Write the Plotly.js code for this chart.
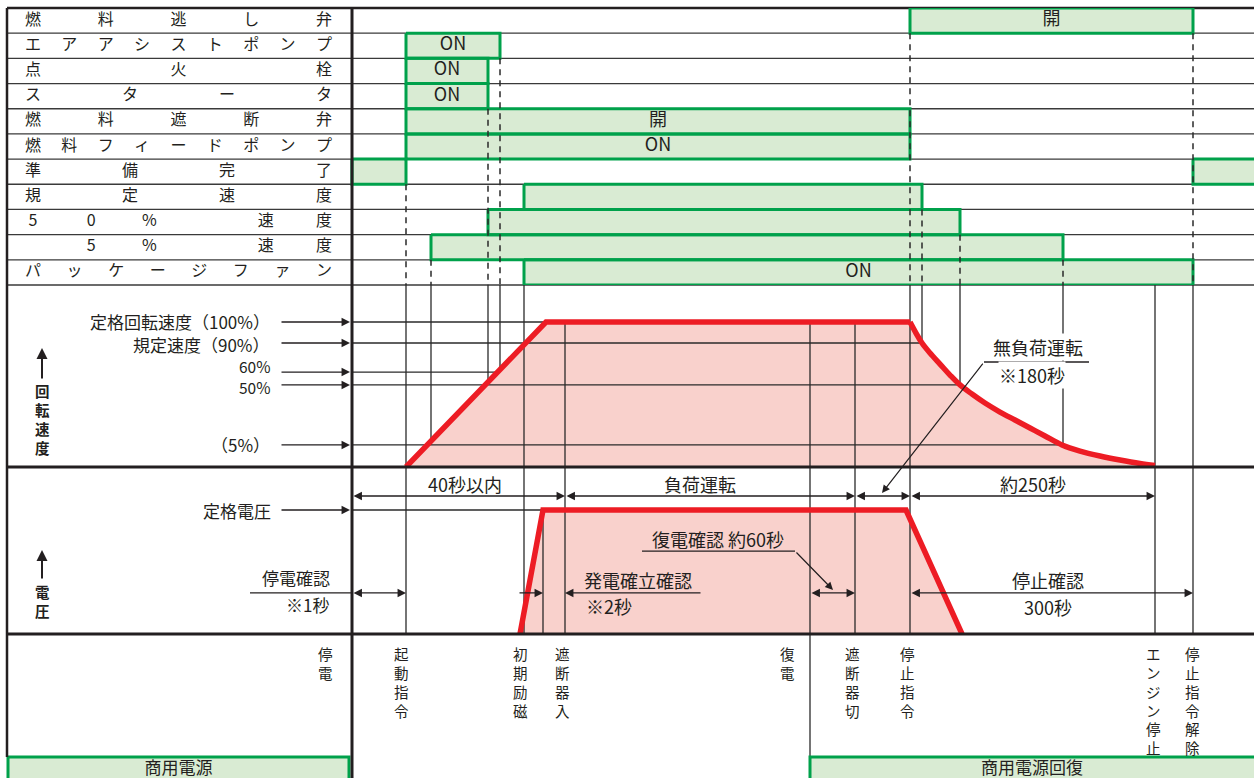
<!DOCTYPE html>
<html><head><meta charset="utf-8">
<script src="https://cdn.plot.ly/plotly-3.0.1.min.js"></script>
<style>html,body{margin:0;padding:0;background:#fff}#chart{width:1254px;height:778px}</style>
</head><body><div id="chart"></div>
<script>
// ===================== DATA =====================
// Schematic time axis of the sequence diagram (arbitrary units, left = power failure at 0)
const eventNames = ['停電','起動指令','初期励磁','遮断器入','復電','遮断器切','停止指令','エンジン停止','停止指令解除'];
const eventTimes = [0, 54, 168, 213, 458, 503, 558, 803, 841];

// Timing rows (state bars)
const rowLabels = ['燃料逃し弁','エアアシストポンプ','点火栓','スタータ','燃料遮断弁','燃料フィードポンプ','準備完了','規定速度','50%　速度','　5%　速度','パッケージファン'];
const barRow   = [0, 1, 2, 3, 4, 5, 6, 6, 7, 8, 9, 10];
const barStart = [558, 54, 54, 54, 54, 54, 0, 841, 172, 136, 79, 172];
const barEnd   = [841, 148, 136, 136, 558, 558, 54, 930, 570, 608, 711, 841];
const barText  = ['開','ON','ON','ON','開','ON','','','','','','ON'];

// Dashed connectors from the timing rows down to the speed chart
const dashT       = [54, 79, 136, 148, 558, 570, 608, 711, 841];
const dashFromRow = [7, 10, 4, 2, 1, 8, 9, 10, 1];

// Engine speed (schematic drawn level, rated = 100)
const speedLevelLabels = ['定格回転速度（100%）','規定速度（90%）','60%','50%','（5%）'];
const speedLevels      = [100, 85.5, 65.5, 56.6, 15.2];
const speedLevelEnd    = [558, 570, 148, 608, 711];
// run-up (linear) and coast-down (curved) parts of the speed trace
const speedRiseT  = [54, 194, 558];
const speedRiseV  = [0, 100, 100];
const speedDecayT = [558, 564, 570, 578, 588, 598, 608, 620, 633, 648, 663, 678, 693, 710, 728, 748, 768, 788, 803];
const speedDecayV = [100, 92.4, 85.5, 78.6, 71.0, 63.4, 56.6, 50.3, 44.1, 37.9, 32.4, 26.9, 21.4, 15.2, 11.0, 7.6, 4.8, 2.4, 1.0];

// Generator voltage (rated = 100)
const voltT = [168, 191, 554, 610];
const voltV = [0, 100, 100, 0];

// Vertical event lines in the speed chart
const speedVLineT    = [54, 79, 136, 148, 172, 213, 458, 503, 558, 570, 608, 711, 803, 841];
const speedVLineLow  = [0, 15.2, 56.6, 65.5, 0, 0, 0, 0, 0, 85.5, 56.6, 15.2, 0, 0];
const speedVLineToTop= [1, 1, 1, 1, 1, 0, 0, 0, 1, 1, 1, 1, 1, 1];
// Vertical event lines in the voltage chart
const voltVLineT     = [54, 172, 191, 213, 458, 503, 558, 803, 841];
const voltVLineToTop = [1, 1, 0, 1, 1, 1, 1, 1, 1];

// Commercial power bars (bottom)
const mainsLabels = ['商用電源','商用電源回復'];
const mainsStart  = [-344, 458];
const mainsEnd    = [-3, 930];

// ===================== STYLE / LAYOUT =====================
const W = 1254, H = 778;
const T_MIN = -352, T_MAX = 902;
const FONT = '"Noto Sans CJK JP","Noto Sans",sans-serif';
const INK = '#231f20';
const GRID = '#2a2a2a';
const GREEN = 'rgb(0,161,75)';
const GREEN_FILL = 'rgb(217,235,211)';
const RED = 'rgb(237,28,36)';
const PINK = 'rgb(249,209,204)';

const ROWS_TOP = 8, ROWS_BOT = 285, SPEED_BOT = 467, VOLT_BOT = 634;
const SPEED_TOP = (SPEED_BOT - ROWS_BOT) / 1.45;
const VOLT_TOP = (VOLT_BOT - SPEED_BOT) / 1.24;
const BOT_RANGE = H - VOLT_BOT;
const py = p => 1 - p / H;
const pxx = p => p / W;

const data = [];
const noHover = {hoverinfo: 'skip', showlegend: false};

// fills
data.push(Object.assign({type:'scatter', x: speedRiseT, y: speedRiseV, yaxis:'y2', mode:'lines', line:{width:0, color:PINK}, fill:'tozeroy', fillcolor:PINK}, noHover));
data.push(Object.assign({type:'scatter', x: speedDecayT, y: speedDecayV, yaxis:'y2', mode:'lines', line:{width:0, color:PINK, shape:'spline', smoothing:1}, fill:'tozeroy', fillcolor:PINK}, noHover));
data.push(Object.assign({type:'scatter', x: voltT, y: voltV, yaxis:'y3', mode:'lines', line:{width:0, color:PINK}, fill:'tozeroy', fillcolor:PINK}, noHover));

// grid lines
function segTrace(segs, yaxis, extra) {
  const xs = [], ys = [];
  segs.forEach(s => { xs.push(s[0], s[1], null); ys.push(s[2], s[3], null); });
  return Object.assign({type:'scatter', x: xs, y: ys, yaxis: yaxis, mode:'lines', line:{color:GRID, width:1.3}}, noHover, extra || {});
}
const sSegs = [];
speedLevels.forEach((v, i) => sSegs.push([0, speedLevelEnd[i], v, v]));
speedVLineT.forEach((t, i) => sSegs.push([t, t, speedVLineLow[i], speedVLineToTop[i] ? SPEED_TOP : speedLevels[0]]));
data.push(segTrace(sSegs, 'y2'));
const vSegs = [[0, voltT[2], voltV[1], voltV[1]]];
voltVLineT.forEach((t, i) => vSegs.push([t, t, 0, voltVLineToTop[i] ? VOLT_TOP : voltV[1]]));
data.push(segTrace(vSegs, 'y3'));
data.push(segTrace([[eventTimes[4], eventTimes[4], 0, 123]], 'y4'));

// red curves
data.push(Object.assign({type:'scatter', x: speedRiseT, y: speedRiseV, yaxis:'y2', mode:'lines', line:{color:RED, width:5.5}}, noHover));
data.push(Object.assign({type:'scatter', x: speedDecayT, y: speedDecayV, yaxis:'y2', mode:'lines', line:{color:RED, width:5.5, shape:'spline', smoothing:1}}, noHover));
data.push(Object.assign({type:'scatter', x: voltT, y: voltV, yaxis:'y3', mode:'lines', line:{color:RED, width:5.5}}, noHover));

// state bars
const bx = [], by = [], tx = [], ty = [], tt = [];
barRow.forEach((r, i) => {
  const s = barStart[i], e = barEnd[i];
  bx.push(s, e, e, s, s, null); by.push(r, r, r + 1, r + 1, r, null);
  if (barText[i]) { tx.push((s + Math.min(e, T_MAX)) / 2); ty.push(r + 0.5); tt.push(barText[i]); }
});
data.push(Object.assign({type:'scatter', x: bx, y: by, yaxis:'y', mode:'lines', fill:'toself', fillcolor:GREEN_FILL, line:{color:GREEN, width:3}}, noHover));
data.push(Object.assign({type:'scatter', x: tx, y: ty, yaxis:'y', mode:'text', text: tt, textposition:'middle center', textfont:{family:FONT, size:18, color:INK}}, noHover));

// dashed connectors
data.push(segTrace(dashT.map((t, i) => [t, t, dashFromRow[i], 11]), 'y', {line:{color:GRID, width:1.5, dash:'6px,5px'}}));

// commercial power bars
const mx = [], my = [], mtx = [], mty = [];
mainsStart.forEach((s, i) => {
  const e = mainsEnd[i];
  mx.push(s, s, e, e, s, null); my.push(160, 123, 123, 160, 160, null);
  mtx.push((s + Math.min(e, T_MAX)) / 2); mty.push(136);
});
data.push(Object.assign({type:'scatter', x: mx, y: my, yaxis:'y4', mode:'lines', fill:'toself', fillcolor:GREEN_FILL, line:{color:GREEN, width:3}}, noHover));
data.push(Object.assign({type:'scatter', x: mtx, y: mty, yaxis:'y4', mode:'text', text: mainsLabels, textfont:{family:FONT, size:17, color:INK}}, noHover));

// row labels, spread evenly over the label column
const lx = [], ly = [], lt = [];
rowLabels.forEach((lab, r) => {
  const ch = Array.from(lab);
  const n = ch.length;
  ch.forEach((c, k) => { lx.push(-319 + k * (291 / (n - 1))); ly.push(r + 0.5); lt.push(c); });
});
data.push(Object.assign({type:'scatter', x: lx, y: ly, yaxis:'y', mode:'text', text: lt, textfont:{family:FONT, size:16, color:INK}}, noHover));

// ---------- shapes (frame) ----------
const shapes = [];
for (let r = 0; r <= 11; r++) {
  const yp = ROWS_TOP + r * (ROWS_BOT - ROWS_TOP) / 11;
  shapes.push({type:'line', xref:'paper', yref:'paper', x0:pxx(7), x1:1, y0:py(yp), y1:py(yp), line:{color:r === 0 ? INK : '#3a3a3a', width:r === 0 ? 2.5 : 1.3}, layer:'below'});
}
[SPEED_BOT, VOLT_BOT].forEach(yp => shapes.push({type:'line', xref:'paper', yref:'paper', x0:pxx(7), x1:1, y0:py(yp), y1:py(yp), line:{color:INK, width:3}, layer:'above'}));
shapes.push({type:'line', xref:'paper', yref:'paper', x0:pxx(7), x1:pxx(7), y0:py(ROWS_TOP), y1:py(757), line:{color:INK, width:2.5}, layer:'above'});
shapes.push({type:'line', xref:'paper', yref:'paper', x0:pxx(352), x1:pxx(352), y0:py(ROWS_TOP), y1:0, line:{color:INK, width:3}, layer:'above'});
// underlines for notes
shapes.push({type:'line', xref:'x', yref:'y3', x0:-102, x1:0, y0:33.1, y1:33.1, line:{color:INK, width:1.3}});
shapes.push({type:'line', xref:'x', yref:'y3', x0:290, x1:443, y0:66.9, y1:66.9, line:{color:INK, width:1.3}});
shapes.push({type:'line', xref:'x', yref:'y2', x0:632, x1:737, y0:72.4, y1:72.4, line:{color:INK, width:1.3}});

// ---------- annotations ----------
const ann = [];
function txt(text, x, y, yref, opt) {
  ann.push(Object.assign({text: text, x: x, y: y, xref:'x', yref: yref, showarrow:false, font:{family:FONT, size:18, color:INK}, borderpad:0}, opt || {}));
}
function arr(x, y, ax, ay, yref, both, opt) {
  ann.push(Object.assign({text:'', x: x, y: y, ax: ax, ay: ay, xref:'x', yref: yref, axref:'x', ayref: yref,
    showarrow:true, arrowhead:2, arrowsize:1.3, arrowwidth:1.3, arrowcolor:INK,
    arrowside: both ? 'end+start' : 'end', startarrowhead:2, startarrowsize:1.3, standoff:0, startstandoff:0}, opt || {}));
}
function parr(x, y, dx, dy, yref, opt) {
  ann.push(Object.assign({text:'', x: x, y: y, ax: dx, ay: dy, xref:'x', yref: yref,
    showarrow:true, arrowhead:2, arrowsize:1.3, arrowwidth:1.3, arrowcolor:INK, standoff:0}, opt || {}));
}
const vert = s => Array.from(s).join('<br>');

// vertical event labels at the bottom (stacked characters)
const eventLabelDx = [-27, -5, 0, -3, -23, -3, -3, -2, -1];
eventNames.forEach((name, i) => {
  txt(vert(name), eventTimes[i] + eventLabelDx[i], 8, 'y4', {yanchor:'top', font:{family:FONT, size:14.5, color:INK}});
});
// axis titles (stacked characters) with up arrows
txt(vert('回転速度'), -310, 60.7, 'y2', {yanchor:'top', font:{family:FONT, size:14.5, color:INK, weight:700}});
txt(vert('電圧'), -310, 43.5, 'y3', {yanchor:'top', font:{family:FONT, size:14.5, color:INK, weight:700}});
parr(-310, 82.1, 0, 32, 'y2', {arrowwidth:2, arrowsize:1.1});
parr(-310, 67.7, 0, 30, 'y3', {arrowwidth:2, arrowsize:1.1});

// speed level labels + arrows
const levelYShift = [1, -1, 6, -2, 0];
const levelFont   = [17, 17, 15.5, 15.5, 17];
speedLevelLabels.forEach((lab, i) => {
  txt(lab, -81, speedLevels[i], 'y2', {xanchor:'right', yshift: levelYShift[i], font:{family:FONT, size:levelFont[i], color:INK}});
  parr(-2, speedLevels[i], -70, 0, 'y2');
});
txt('定格電圧', -80, 100, 'y3', {xanchor:'right', font:{family:FONT, size:17, color:INK}});
parr(-2, 100, -70, 0, 'y3');

// interval arrows (upper row of voltage chart)
arr(213, 111.3, 0, 111.3, 'y3', true);
arr(503, 111.3, 213, 111.3, 'y3', true);
arr(558, 111.3, 503, 111.3, 'y3', true);
arr(803, 111.3, 558, 111.3, 'y3', true);
txt('40秒以内', 113, 121, 'y3');
txt('負荷運転', 348, 121, 'y3');
txt('約250秒', 681, 121, 'y3');

// lower row of voltage chart
arr(54, 33.1, 0, 33.1, 'y3', true);
txt('停電確認', -56, 45.2, 'y3', {font:{family:FONT, size:17, color:INK}});
txt('※1秒', -45, 23.4, 'y3', {font:{family:FONT, size:17, color:INK}});
arr(191, 33.1, 166, 33.1, 'y3', false);
arr(213, 33.1, 350, 33.1, 'y3', false);
txt('発電確立確認', 286, 43.5, 'y3');
txt('※2秒', 233, 22.6, 'y3', {xanchor:'left'});
arr(503, 33.1, 458, 33.1, 'y3', true);
txt('復電確認 約60秒', 366, 76.5, 'y3');
parr(481, 35.5, -38, -39, 'y3', {arrowwidth:1.2});
arr(841, 33.1, 558, 33.1, 'y3', true);
txt('停止確認', 696, 43.5, 'y3');
txt('300秒', 696, 21.8, 'y3');

// no-load note
txt('無負荷運転', 686, 82.6, 'y2', {bgcolor:'#fff'});
txt('※180秒', 680, 63.6, 'y2', {bgcolor:'#fff'});
parr(530, 113.7, 102, -131, 'y3', {arrowwidth:1.2});

const layout = {
  width: W, height: H,
  margin: {l:0, r:0, t:0, b:0, pad:0},
  paper_bgcolor: '#ffffff', plot_bgcolor: 'rgba(0,0,0,0)',
  showlegend: false,
  font: {family: FONT, color: INK},
  xaxis: {domain:[0,1], range:[T_MIN, T_MAX], visible:false, fixedrange:true},
  yaxis: {domain:[py(ROWS_BOT), py(ROWS_TOP)], range:[11, 0], visible:false, fixedrange:true, anchor:'x'},
  yaxis2: {domain:[py(SPEED_BOT), py(ROWS_BOT)], range:[0, SPEED_TOP], visible:false, fixedrange:true, anchor:'x'},
  yaxis3: {domain:[py(VOLT_BOT), py(SPEED_BOT)], range:[0, VOLT_TOP], visible:false, fixedrange:true, anchor:'x'},
  yaxis4: {domain:[0, py(VOLT_BOT)], range:[BOT_RANGE, 0], visible:false, fixedrange:true, anchor:'x'},
  shapes: shapes,
  annotations: ann
};

Plotly.newPlot('chart', data, layout, {staticPlot:true, displayModeBar:false});
</script>
</body></html>
